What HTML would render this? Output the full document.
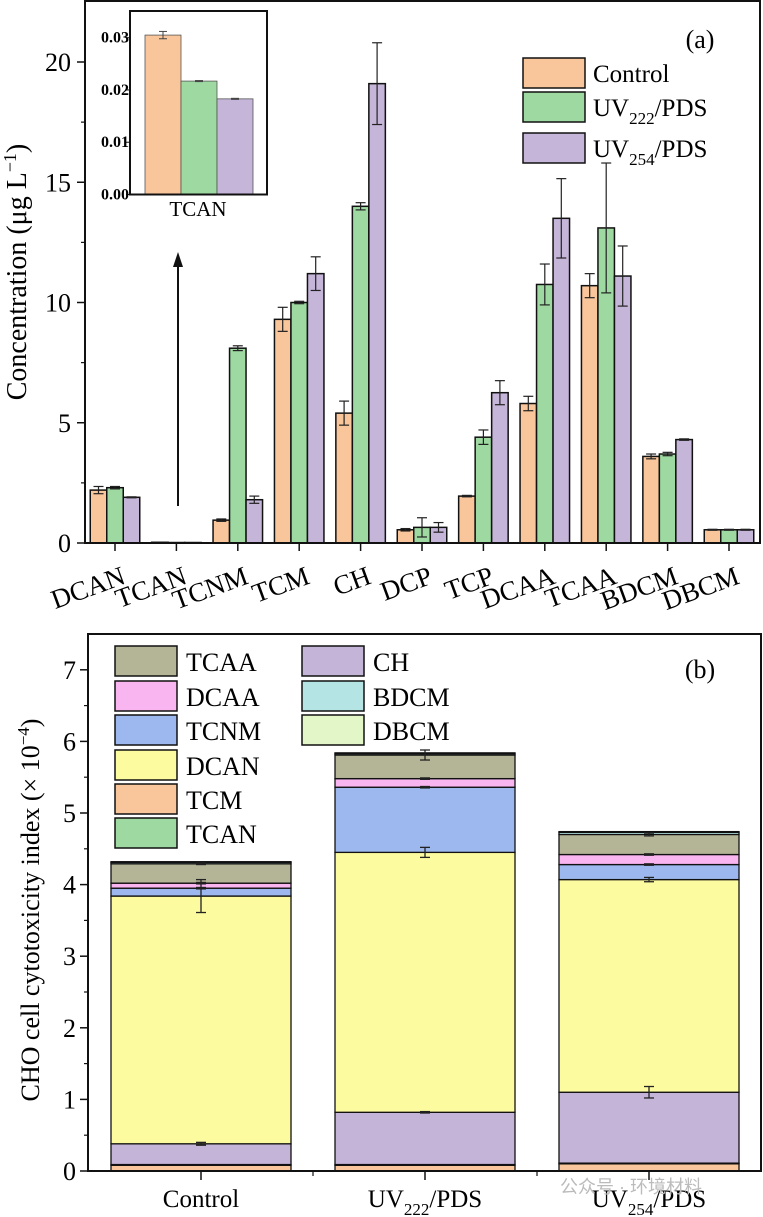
<!DOCTYPE html>
<html><head><meta charset="utf-8">
<style>
html,body{margin:0;padding:0;background:#fff;}
svg{display:block;font-family:"Liberation Serif",serif;}
</style></head>
<body>
<svg id="fig" width="763" height="1217" viewBox="0 0 763 1217" xmlns="http://www.w3.org/2000/svg">
<g id="pa"></g>
<g id="pb"></g>
</svg>
<script>
// ---------- Panel (a) data ----------
const catsA = ["DCAN","TCAN","TCNM","TCM","CH","DCP","TCP","DCAA","TCAA","BDCM","DBCM"];
const seriesA = ["Control","UV222/PDS","UV254/PDS"];
const controlVals = [2.2,0.03,0.95,9.3,5.4,0.55,1.95,5.8,10.7,3.6,0.55];
const controlErr  = [0.15,0,0.05,0.5,0.5,0.05,0.03,0.3,0.5,0.1,0.02];
const uv222Vals = [2.3,0.02,8.1,10.0,14.0,0.65,4.4,10.75,13.1,3.7,0.55];
const uv222Err  = [0.05,0,0.1,0.05,0.15,0.4,0.3,0.85,2.7,0.07,0.02];
const uv254Vals = [1.9,0.02,1.8,11.2,19.1,0.65,6.25,13.5,11.1,4.3,0.55];
const uv254Err  = [0.02,0,0.15,0.7,1.7,0.2,0.5,1.65,1.25,0.03,0.02];
const ticksA = [0,5,10,15,20];
const insetVals = [0.0305,0.0217,0.0183];
const insetErr = [0.0007,0.0001,0.0001];
const insetTicks = ["0.00","0.01","0.02","0.03"];

// ---------- Panel (b) data ----------
const groupsB = ["Control","UV222/PDS","UV254/PDS"];
const layersB = ["TCM","TCAN","CH","DCAN","TCNM","DCAA","TCAA","BDCM","DBCM"];
const layerTCM  = [0.08,0.08,0.10];
const layerTCAN = [0.01,0.01,0.01];
const layerCH   = [0.29,0.73,0.99];
const layerDCAN = [3.46,3.63,2.97];
const layerTCNM = [0.11,0.91,0.21];
const layerDCAA = [0.07,0.12,0.14];
const layerTCAA = [0.27,0.33,0.28];
const layerBDCM = [0.02,0.02,0.03];
const layerDBCM = [0.01,0.01,0.01];
const errCH   = [0.02,0.01,0.08];
const errDCAN = [0.23,0.07,0.03];
const errTCNM = [0.01,0.01,0.01];
const errDCAA = [0.01,0.01,0.01];
const errTCAA = [0.01,0.07,0.02];
const ticksB = [0,1,2,3,4,5,6,7];

const NS="http://www.w3.org/2000/svg";
function mk(parent,tag,attrs,text){const e=document.createElementNS(NS,tag);for(const k in attrs)e.setAttribute(k,attrs[k]);if(text!==undefined)e.textContent=text;parent.appendChild(e);return e;}

// ===== Panel a =====
const pa=document.getElementById('pa');
const aL=85,aR=760,aT=1,aB=543;
const yA=v=>aB-v*24.05;
const grpW=61.4, x0A=115;
const xA=i=>x0A+i*grpW;
const barW=16.5;
const colA=["#f9c59a","#9dd9a1","#c5b5d9"];
const valsA=[controlVals,uv222Vals,uv254Vals], errsA=[controlErr,uv222Err,uv254Err];
catsA.forEach((c,i)=>{
  for(let s=0;s<3;s++){
    const x=xA(i)-barW*1.5+s*barW, v=valsA[s][i];
    const r=mk(pa,'rect',{x:x,y:yA(v),width:barW,height:aB-yA(v),fill:colA[s],stroke:'#111','stroke-width':1.5});
    
    
    const e=errsA[s][i];
    if(e>0){
      const cx=x+barW/2;
      const g=mk(pa,'g',{stroke:'#222','stroke-width':1.2});
      
      
      mk(g,'line',{x1:cx,x2:cx,y1:yA(v+e),y2:yA(v-e)});
      mk(g,'line',{x1:cx-5,x2:cx+5,y1:yA(v+e),y2:yA(v+e)});
      mk(g,'line',{x1:cx-5,x2:cx+5,y1:yA(v-e),y2:yA(v-e)});
    }
  }
  const t=mk(pa,'line',{x1:xA(i),x2:xA(i),y1:aB,y2:aB+8,stroke:'#111','stroke-width':1.5});
  
  
  const lx=xA(i)+12, ly=aB+40;
  const tl=mk(pa,'text',{x:lx,y:ly,'font-size':27,'text-anchor':'end',transform:`rotate(-20 ${lx} ${ly})`},c);
  
  
});
mk(pa,'rect',{x:aL,y:aT,width:aR-aL,height:aB-aT,fill:'none',stroke:'#111','stroke-width':2,});
ticksA.forEach(v=>{
  mk(pa,'line',{x1:aL-8,x2:aL,y1:yA(v),y2:yA(v),stroke:'#111','stroke-width':1.5});
  const t=mk(pa,'text',{x:aL-14,y:yA(v)+9,'font-size':26,'text-anchor':'end'},String(v));
  
  
});
for(let v=2.5;v<22;v+=5) mk(pa,'line',{x1:aL-4,x2:aL,y1:yA(v),y2:yA(v),stroke:'#111','stroke-width':1.2});
const yt=mk(pa,'text',{x:0,y:0,'font-size':28,'text-anchor':'middle',transform:'translate(26,272) rotate(-90)'});


yt.innerHTML='Concentration (μg L<tspan dy="-10" font-size="18">−1</tspan><tspan dy="10">)</tspan>';
mk(pa,'text',{x:700,y:48,'font-size':26,'text-anchor':'middle',},'(a)');
const legA=[["Control",""],["UV","222"],["UV","254"]];
legA.forEach((l,i)=>{
  const y=[58,92,133][i];
  mk(pa,'rect',{x:523,y:y,width:62,height:30,fill:colA[i],stroke:'#111','stroke-width':1.5,});
  const t=mk(pa,'text',{x:593,y:y+24,'font-size':25,});
  if(i===0)t.textContent='Control';
  else t.innerHTML=`UV<tspan dy="8" font-size="17">${l[1]}</tspan><tspan dy="-8">/PDS</tspan>`;
});
mk(pa,'line',{x1:178,x2:178,y1:506,y2:262,stroke:'#111','stroke-width':2,});
mk(pa,'polygon',{points:'178,252 173,267 183,267',fill:'#111'});
const iL=130,iR=267,iT=11,iB=194.5;
const yI=v=>iB-v*(iB-37.7)/0.03;
insetVals.forEach((v,s)=>{
  const x=145+s*36;
  const r=mk(pa,'rect',{x:x,y:yI(v),width:36,height:iB-yI(v),fill:colA[s],stroke:'#555','stroke-width':0.8});
  
  
  const cx=x+18,e=insetErr[s];
  mk(pa,'line',{x1:cx,x2:cx,y1:yI(v+e),y2:yI(v-e),stroke:'#444'});
  mk(pa,'line',{x1:cx-4,x2:cx+4,y1:yI(v+e),y2:yI(v+e),stroke:'#444'});
  mk(pa,'line',{x1:cx-4,x2:cx+4,y1:yI(v-e),y2:yI(v-e),stroke:'#444'});
});
mk(pa,'rect',{x:iL,y:iT,width:iR-iL,height:iB-iT,fill:'none',stroke:'#111','stroke-width':2,});
insetTicks.forEach(s=>{
  const v=parseFloat(s);
  mk(pa,'line',{x1:iL-4,x2:iL,y1:yI(v),y2:yI(v),stroke:'#111'});
  const t=mk(pa,'text',{x:iL-1,y:yI(v)+5,'font-size':16,'font-weight':'bold','text-anchor':'end'},s);
  
  
});
mk(pa,'text',{x:198,y:216,'font-size':21,'text-anchor':'middle',},'TCAN');

// ===== Panel b =====
const pb=document.getElementById('pb');
const bL=88,bR=761,bT=634,bB=1171;
const yB=v=>bB-v*71.6;
const centersB=[201,425,649], bw=180;
const colB={TCM:"#f9c59a",TCAN:"#9dd9a1",CH:"#c4b4d8",DCAN:"#fdfb9f",TCNM:"#9cb8ee",DCAA:"#f9b5f0",TCAA:"#b4b497",BDCM:"#b4e4e4",DBCM:"#e2f6c8"};
const layerData={TCM:layerTCM,TCAN:layerTCAN,CH:layerCH,DCAN:layerDCAN,TCNM:layerTCNM,DCAA:layerDCAA,TCAA:layerTCAA,BDCM:layerBDCM,DBCM:layerDBCM};
const errData={CH:errCH,DCAN:errDCAN,TCNM:errTCNM,DCAA:errDCAA,TCAA:errTCAA};
groupsB.forEach((g,i)=>{
  let cum=0; const x=centersB[i]-bw/2;
  const errs=[];
  layersB.forEach(L=>{
    const v=layerData[L][i];
    const r=mk(pb,'rect',{x:x,y:yB(cum+v),width:bw,height:v*71.6,fill:colB[L],stroke:'#111','stroke-width':1.3});
    
    
    cum+=v;
    if(errData[L])errs.push([cum,errData[L][i]]);
  });
  errs.forEach(([v,e])=>{
    const cx=centersB[i];
    const gg=mk(pb,'g',{stroke:'#222','stroke-width':1.3});
    
    
    mk(gg,'line',{x1:cx,x2:cx,y1:yB(v+e),y2:yB(v-e)});
    mk(gg,'line',{x1:cx-5,x2:cx+5,y1:yB(v+e),y2:yB(v+e)});
    mk(gg,'line',{x1:cx-5,x2:cx+5,y1:yB(v-e),y2:yB(v-e)});
  });
  mk(pb,'line',{x1:centersB[i],x2:centersB[i],y1:bB,y2:bB+9,stroke:'#111','stroke-width':1.5});
  const t=mk(pb,'text',{x:centersB[i],y:1207,'font-size':25,'text-anchor':'middle'});
  
  
  if(i===0)t.textContent='Control';
  else t.innerHTML=`UV<tspan dy="8" font-size="17">${i===1?'222':'254'}</tspan><tspan dy="-8">/PDS</tspan>`;
});
[313,537].forEach(x=>mk(pb,'line',{x1:x,x2:x,y1:bB,y2:bB+5,stroke:'#111','stroke-width':1.2}));
mk(pb,'rect',{x:bL,y:bT,width:bR-bL,height:bB-bT,fill:'none',stroke:'#111','stroke-width':2,});
ticksB.forEach(v=>{
  mk(pb,'line',{x1:bL-8,x2:bL,y1:yB(v),y2:yB(v),stroke:'#111','stroke-width':1.5});
  const t=mk(pb,'text',{x:bL-12,y:yB(v)+9,'font-size':26,'text-anchor':'end'},String(v));
  
  
});
for(let v=0.5;v<7.5;v+=1) mk(pb,'line',{x1:bL-4,x2:bL,y1:yB(v),y2:yB(v),stroke:'#111','stroke-width':1.2});
const yt2=mk(pb,'text',{x:0,y:0,'font-size':26,'text-anchor':'middle',transform:'translate(39,910) rotate(-90)'});


yt2.innerHTML='CHO cell cytotoxicity index (× 10<tspan dy="-10" font-size="17">−4</tspan><tspan dy="10">)</tspan>';
mk(pb,'text',{x:700,y:678,'font-size':26,'text-anchor':'middle',},'(b)');
const legB=[["TCAA",115,661],["DCAA",115,696],["TCNM",115,730],["DCAN",115,765],["TCM",115,799],["TCAN",115,833],["CH",302,661],["BDCM",302,696],["DBCM",302,730]];
legB.forEach(([n,x,cy])=>{
  const r=mk(pb,'rect',{x:x,y:cy-15,width:62,height:30,fill:colB[n],stroke:'#111','stroke-width':1.5});
  
  
  const t=mk(pb,'text',{x:x+71,y:cy+10,'font-size':26},n);
  
  
});
mk(pb,'text',{x:560,y:1193,'font-size':18,fill:'#bbb','font-family':'"Liberation Sans","Noto Sans CJK SC",sans-serif',},'公众号 · 环境材料');
</script>
</body></html>
